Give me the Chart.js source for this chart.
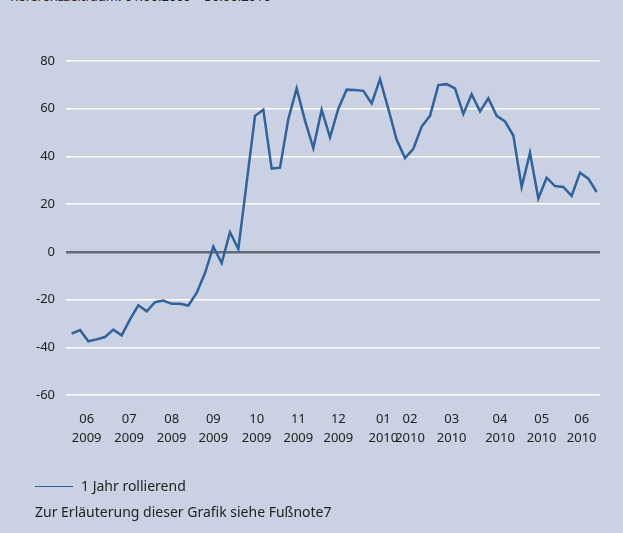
<!DOCTYPE html>
<html>
<head>
<meta charset="utf-8">
<script src="https://cdn.jsdelivr.net/npm/chart.js@4"></script>
<style>
  html, body { margin: 0; padding: 0; }
  body { width: 623px; height: 533px; background: #cad1e2; position: relative; overflow: hidden;
         font-family: 'Noto Sans', sans-serif; color: #222; }
  #wrap { position: absolute; left: 0; top: 0; width: 623px; height: 533px; }
  .note { position: absolute; font-size: 14px; white-space: nowrap; }
  #top { left: 10px; top: -13px; font-size: 13px; }
  #legend { left: 35px; top: 476px; }
  #legend span { display: inline-block; width: 38px; height: 0; border-top: 1.5px solid #2e639e;
                 vertical-align: middle; margin-right: 8px; position: relative; top: -1px; }
  #foot { left: 35px; top: 502px; }
</style>
</head>
<body>
<div class="note" id="top">Referenzzeitraum: 01.06.2009 – 30.06.2010</div>
<div id="wrap"><canvas id="chart" width="623" height="533"></canvas></div>
<div class="note" id="legend"><span></span>1 Jahr rollierend</div>
<div class="note" id="foot">Zur Erläuterung dieser Grafik siehe Fußnote7</div>
<script>
const ctx = document.getElementById('chart').getContext('2d')

// weekly values, 1 Jahr rollierend
const values = [
  -34.3, -32.8, -37.5, -36.7, -35.7, -32.6, -35, -28.3, -22.4, -24.9,
  -21.1, -20.4, -21.8, -21.8, -22.5, -17.2, -8.9, 2.2, -4.7, 8.2,
  1.2, 29, 57, 59.6, 34.9, 35.3, 55.7, 68.5, 55, 43.5,
  59.6, 48, 60, 68, 67.8, 67.5, 62.2, 72.4, 59.9, 47,
  39.3, 43.2, 52.5, 57, 69.9, 70.3, 68.5, 57.8, 66.1, 58.9,
  64.4, 57, 54.7, 48.75, 27.2, 41.5, 22.4, 31.1, 27.6, 27.2,
  23.5, 33.2, 30.7, 25.1,
]

// month labels and where they sit along the weekly series
const monthLabels = ['06', '07', '08', '09', '10', '11', '12', '01', '02', '03', '04', '05', '06']
const yearLabels = ['2009', '2009', '2009', '2009', '2009', '2009', '2009', '2010', '2010', '2010', '2010', '2010', '2010']
const monthPos = [1.8, 6.9, 12, 17, 22.2, 27.2, 32, 37.4, 40.6, 45.6, 51.4, 56.4, 61.2]

const yTicks = [80, 60, 40, 20, 0, -20, -40, -60]

const points = values.map((v, i) => ({ x: i, y: v }))

const config = {
  type: 'line',
  data: {
    datasets: [
      {
        label: '1 Jahr rollierend',
        data: points,
        borderColor: '#2e639e',
        borderWidth: 2.5,
        pointRadius: 0,
        tension: 0,
        fill: false,
      },
    ],
  },
  options: {
    responsive: false,
    animation: false,
    layout: { padding: { top: 61, right: 23, bottom: 0, left: 0 } },
    plugins: {
      legend: { display: false },
      tooltip: { enabled: false },
    },
    scales: {
      x: {
        type: 'linear',
        min: -0.68,
        max: 63.4,
        grid: { display: false, drawTicks: false },
        border: { display: false },
        afterBuildTicks: scale => {
          scale.ticks = monthPos.map(v => ({ value: v }))
        },
        afterFit: scale => {
          scale.height = 138
        },
        ticks: {
          autoSkip: false,
          maxRotation: 0,
          padding: 15,
          color: '#222',
          font: { family: 'Noto Sans', size: 13, lineHeight: 1.45 },
          callback: (value, index) => [monthLabels[index], yearLabels[index]],
        },
      },
      y: {
        min: -60,
        max: 80,
        grid: {
          drawTicks: false,
          color: c => (c.tick && c.tick.value === 0 ? '#666a70' : '#ffffff'),
          lineWidth: c => (c.tick && c.tick.value === 0 ? 2.5 : 1.5),
        },
        border: { display: false },
        afterBuildTicks: scale => {
          scale.ticks = yTicks.map(v => ({ value: v }))
        },
        afterFit: scale => {
          scale.width = 66
        },
        ticks: {
          padding: 11,
          color: '#222',
          font: { family: 'Noto Sans', size: 13 },
        },
      },
    },
  },
}

const chart = new Chart(ctx, config)
</script>
</body>
</html>
